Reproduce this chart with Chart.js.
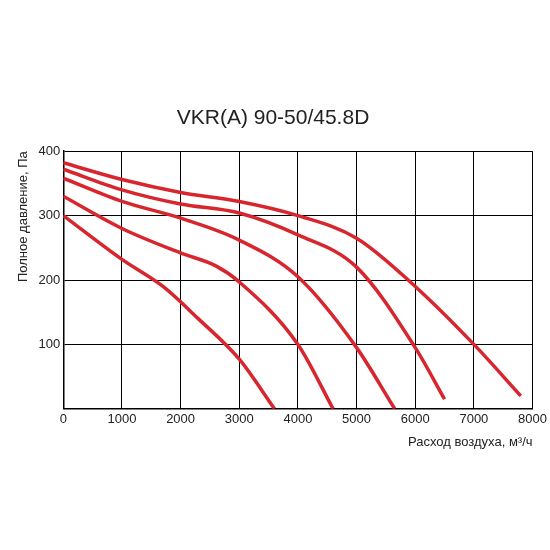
<!DOCTYPE html>
<html><head><meta charset="utf-8">
<script src="https://cdn.jsdelivr.net/npm/chart.js@4.4.0/dist/chart.umd.min.js"></script>
<style>body{margin:0;background:#fff}#w{width:550px;height:550px}</style>
</head><body><div id="w"><canvas id="c"></canvas></div>
<script>
// curves: [airflow m3/h, pressure Pa]
const curve1 = [[0,300],[1000,232],[1700,190],[2300,140],[3000,77],[3600,0]];
const curve2 = [[0,330],[1000,280],[2000,242],[2600,222],[3000,197],[4000,100],[4600,0]];
const curve3 = [[0,358],[1000,322],[2000,296],[3000,262],[4000,205],[5000,95],[5650,0]];
const curve4 = [[0,372],[1000,340],[2000,318],[3000,304],[4000,270],[5000,220],[6000,95],[6500,15]];
const curve5 = [[0,382],[1000,356],[2000,336],[3000,322],[4000,300],[5000,265],[6000,190],[7000,100],[7800,20]];
const curves = [curve1, curve2, curve3, curve4, curve5];

new Chart(document.getElementById('c'), {
  type: 'line',
  data: {
    datasets: curves.map(c => ({
      data: c.map(p => ({x: p[0], y: p[1]})),
      borderColor: '#d7262e', borderWidth: 3.5, pointRadius: 0,
      tension: 0.4, cubicInterpolationMode: 'monotone', fill: false
    }))
  },
  options: {
    responsive: true, maintainAspectRatio: false, animation: false,
    layout: {padding: {top: 106, right: 16, bottom: 96, left: 12}},
    plugins: {
      legend: {display: false}, tooltip: {enabled: false},
      title: {display: true, text: 'VKR(A) 90-50/45.8D', color: '#222',
        font: {family: 'Liberation Sans', size: 21, weight: 'normal'}, padding: {bottom: 20}}
    },
    scales: {
      x: {type: 'linear', min: 0, max: 8000,
        ticks: {stepSize: 1000, color: '#222', font: {family: 'Liberation Sans', size: 13},
          callback: v => String(v)},
        grid: {color: '#000', lineWidth: 1, drawTicks: false}, border: {color: '#000', width: 1.5},
        title: {display: true, text: 'Расход воздуха, м³/ч', align: 'end', color: '#222',
          font: {family: 'Liberation Sans', size: 13}}},
      y: {min: 0, max: 400,
        ticks: {stepSize: 100, color: '#222', font: {family: 'Liberation Sans', size: 13},
          callback: v => v === 0 ? '' : v},
        grid: {color: '#000', lineWidth: 1, drawTicks: false}, border: {color: '#000', width: 1.5},
        title: {display: true, text: 'Полное давление, Па', align: 'end', color: '#222',
          font: {family: 'Liberation Sans', size: 13}}}
    }
  }
});
</script></body></html>
